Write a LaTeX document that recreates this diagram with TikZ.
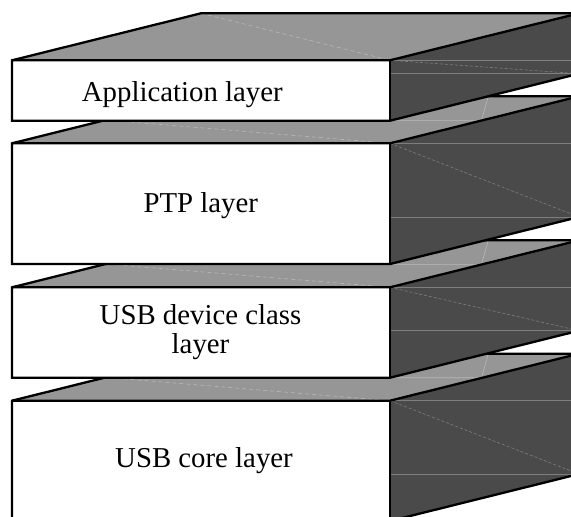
\documentclass[tikz,border=0pt]{standalone}
\usepackage{fontspec}
\setmainfont{Liberation Serif}
\begin{document}
\begin{tikzpicture}[x=1pt,y=-1pt,
  topface/.style={fill=topgray},
  sideface/.style={fill=sidegray},
  frontface/.style={fill=white},
  outline/.style={draw=black,line width=2.3pt,line join=miter},
  sideseam/.style={draw=seamdark,line width=0.6pt},
  sidedash/.style={draw=seamdark,line width=0.6pt,dash pattern=on 3pt off 2pt},
  topseam/.style={draw=seamlight,line width=0.6pt},
  topdash/.style={draw=seamlight,line width=0.6pt,dash pattern=on 4pt off 3pt},
  lbl/.style={font=\fontsize{28.8}{28.3}\selectfont,align=center,inner sep=0pt}]
\definecolor{topgray}{HTML}{969696}
\definecolor{sidegray}{HTML}{4A4A4A}
\definecolor{seamdark}{HTML}{7E7E7E}
\definecolor{seamlight}{HTML}{B8B8B8}
\useasboundingbox (0,0) rectangle (571,517);
\clip (0,0) rectangle (571,517);
% #1 = front top y, #2 = front bottom y, #3 = 1 for top box seams, 0 otherwise
\newcommand{\drawlayer}[3]{%
  \path[topface] (12,#1) -- (390,#1) -- (579,#1-47) -- (201,#1-47) -- cycle;
  \path[sideface] (390,#1) -- (579,#1-47) -- (579,#2-47) -- (390,#2) -- cycle;
  \path[sideseam] (390,#1) -- (579,#1);
  \path[sideseam] (390,#2-47) -- (579,#2-47);
  \path[sidedash] (390,#1) -- (579,#2-47);
  \ifnum#3=1
    \path[topdash] (201,#1-47) -- (390,#1);
  \else
    \path[topdash] (12,#1-31) -- (390,#1);
    \path[topseam] (488.3,#1-47) -- (481.5,#1-23) -- (390,#1-23);
  \fi
  \path[frontface] (12,#1) rectangle (390,#2);
  \path[outline] (12,#2) -- (12,#1) -- (201,#1-47) -- (579,#1-47) -- (579,#2-47) -- (390,#2) -- cycle;
  \path[outline] (12,#1) -- (390,#1) -- (579,#1-47);
  \path[outline] (390,#1) -- (390,#2);
}
\drawlayer{400.7}{521}{0}
\node[lbl,anchor=base] (core) at (204,467.7) {USB core layer};
\drawlayer{287.3}{377.7}{0}
\node[lbl,anchor=base] (dev) at (200.5,353) {USB device class\\layer};
\drawlayer{143.3}{264}{0}
\node[lbl,anchor=base] (ptp) at (200.8,212.3) {PTP layer};
\drawlayer{60.3}{120.7}{1}
\node[lbl,anchor=base] (app) at (182.3,101.7) {Application layer};
\end{tikzpicture}
\end{document}
